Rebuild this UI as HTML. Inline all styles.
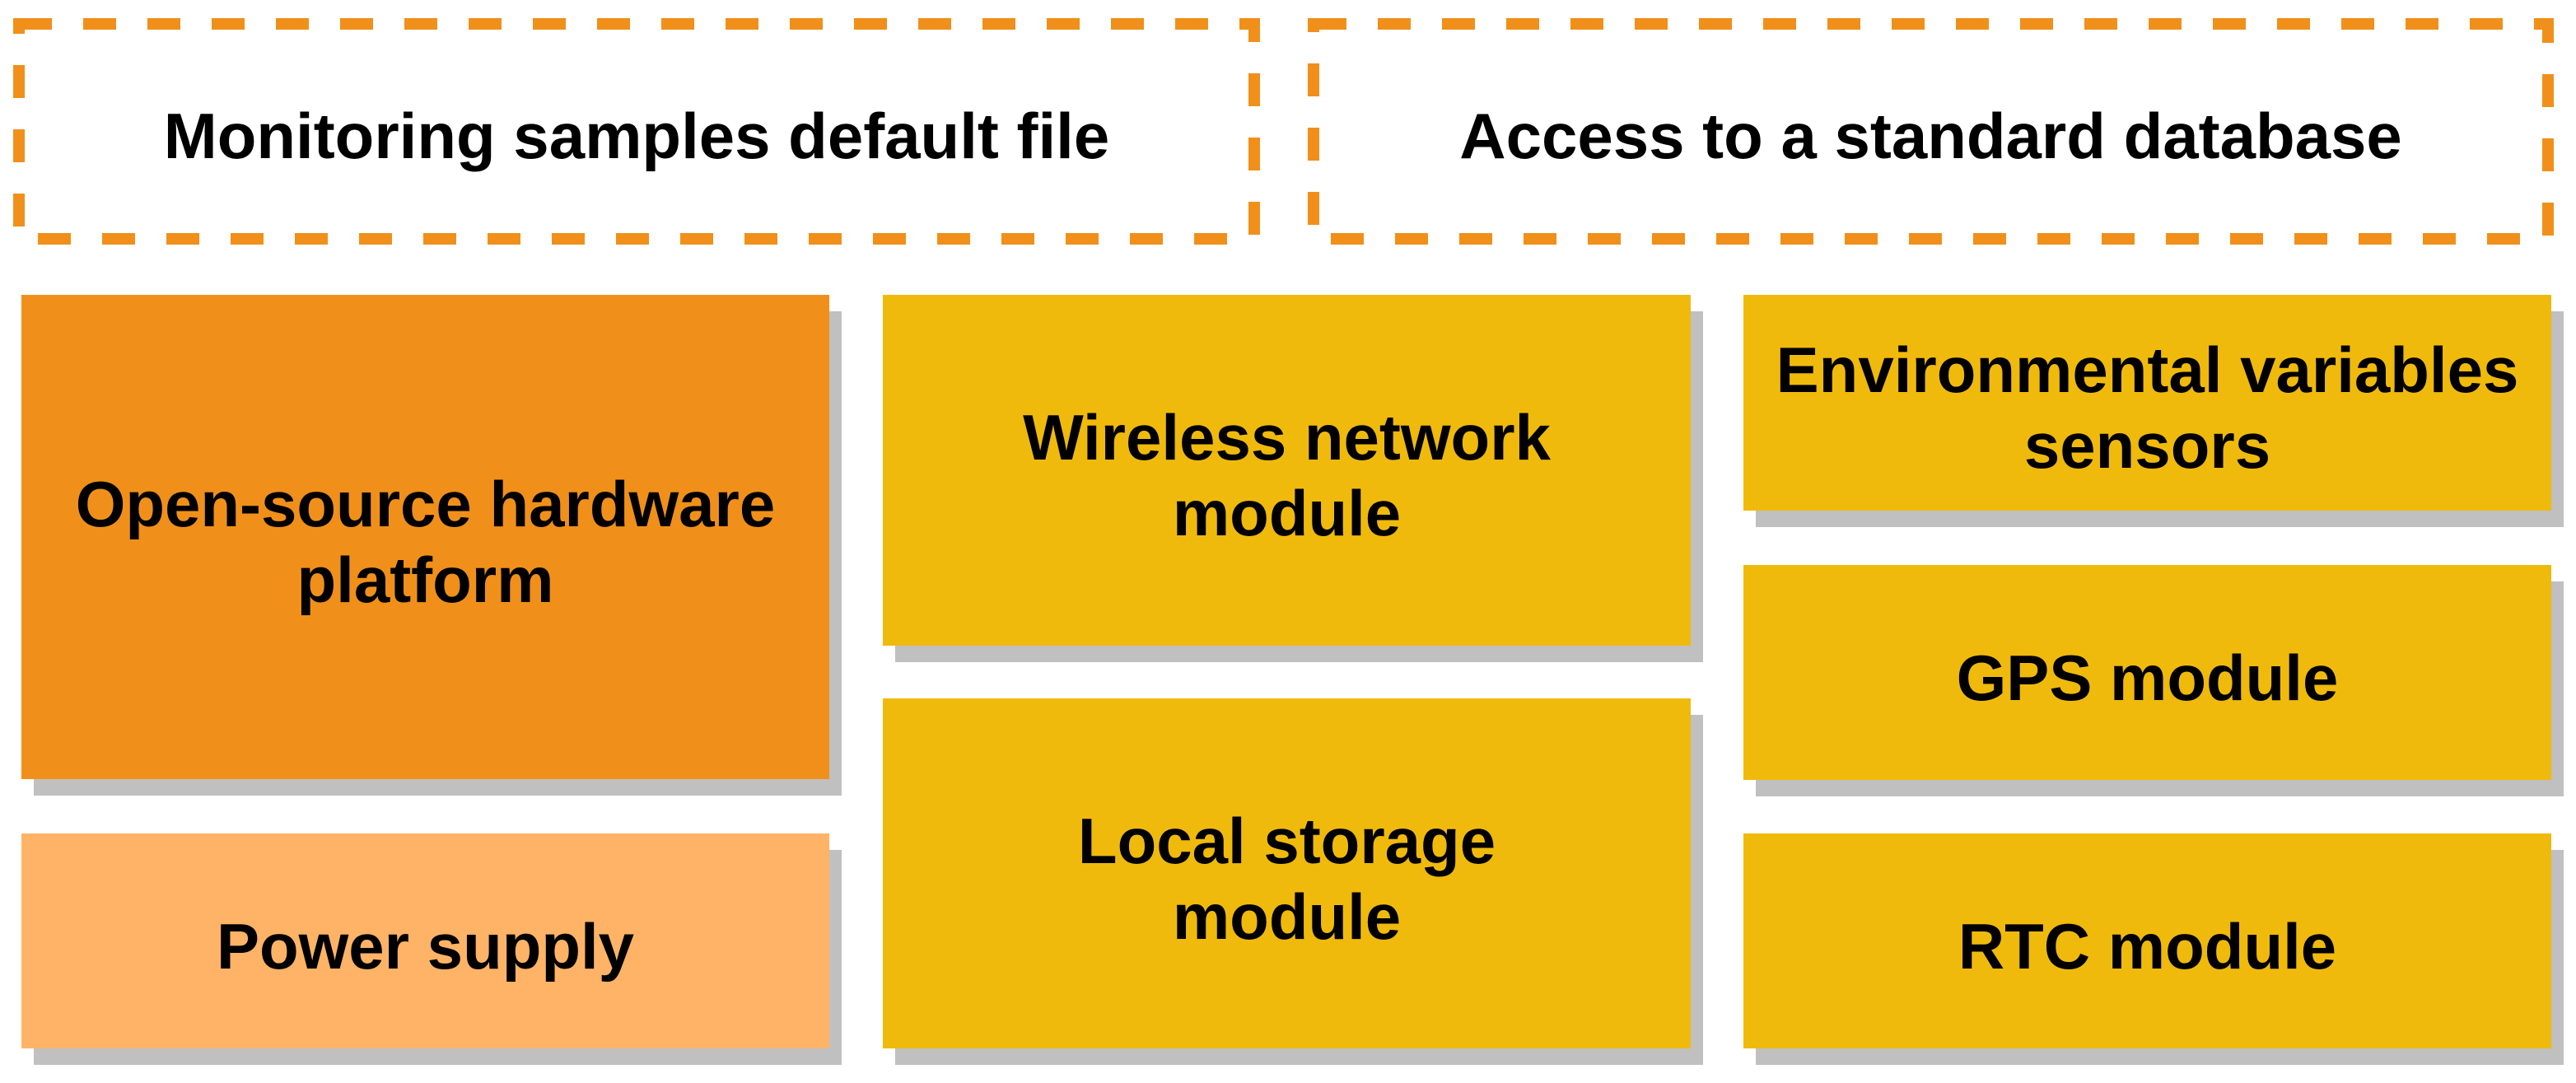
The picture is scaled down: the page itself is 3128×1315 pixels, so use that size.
<!DOCTYPE html>
<html><head><meta charset="utf-8"><style>
html,body{margin:0;padding:0;background:#fff;}
body{width:3128px;height:1315px;position:relative;overflow:hidden;font-family:"Liberation Sans",Arial,sans-serif;}
.b{position:absolute;box-sizing:border-box;padding-top:12px;display:flex;align-items:center;justify-content:center;text-align:center;font-weight:bold;font-size:78px;line-height:92px;color:#000;box-shadow:15px 20px 0 #c0c0c0;}
.t{position:absolute;box-sizing:border-box;padding-top:12px;display:flex;align-items:center;justify-content:center;font-weight:bold;font-size:78px;color:#000;}
.o{background:#f0901a;}.l{background:#ffb366;}.y{background:#f0ba0c;}
</style></head><body>
<svg width="3128" height="1315" style="position:absolute;left:0;top:0">
<rect x="23" y="29" width="1500" height="261" fill="none" stroke="#f0901a" stroke-width="14" stroke-dasharray="40 38"/>
<rect x="1595" y="29" width="1499" height="261" fill="none" stroke="#f0901a" stroke-width="14" stroke-dasharray="40 38"/>
</svg>
<div class="t" style="left:23px;top:29px;width:1500px;height:261px;">Monitoring samples default file</div>
<div class="t" style="left:1595px;top:29px;width:1499px;height:261px;">Access to a standard database</div>
<div class="b o" style="left:26px;top:358px;width:981px;height:588px;">Open-source hardware<br>platform</div>
<div class="b l" style="left:26px;top:1012px;width:981px;height:261px;">Power supply</div>
<div class="b y" style="left:1072px;top:358px;width:981px;height:426px;">Wireless network<br>module</div>
<div class="b y" style="left:1072px;top:848px;width:981px;height:425px;">Local storage<br>module</div>
<div class="b y" style="left:2117px;top:358px;width:981px;height:262px;">Environmental variables<br>sensors</div>
<div class="b y" style="left:2117px;top:686px;width:981px;height:261px;">GPS module</div>
<div class="b y" style="left:2117px;top:1012px;width:981px;height:261px;">RTC module</div>
</body></html>
